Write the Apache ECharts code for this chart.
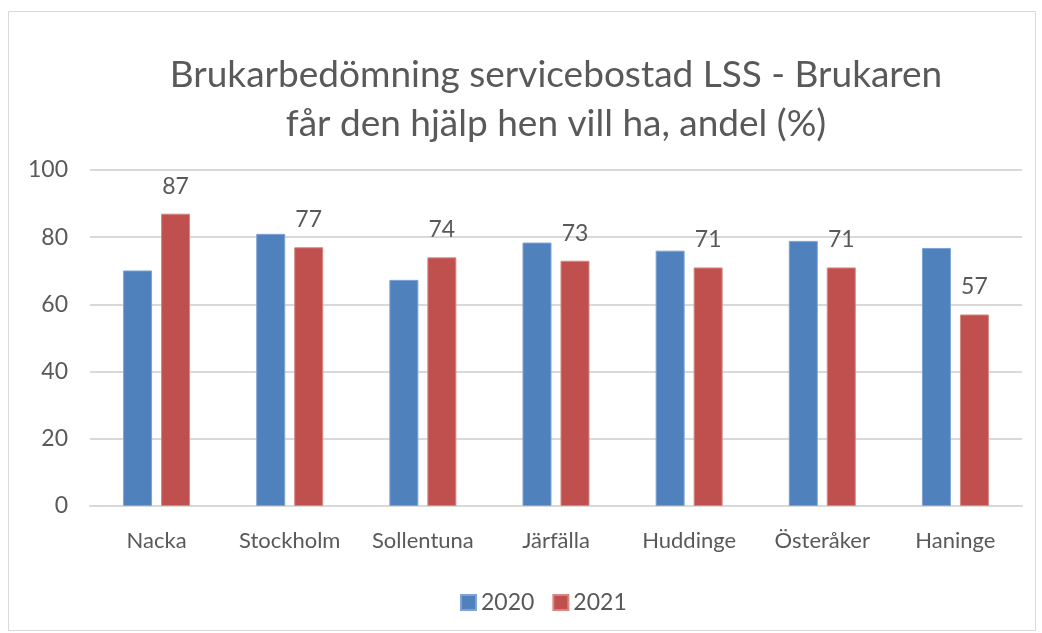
<!DOCTYPE html>
<html>
<head>
<meta charset="utf-8">
<script src="https://cdn.jsdelivr.net/npm/echarts@6/dist/echarts.min.js"></script>
<style>
  html, body { margin: 0; padding: 0; background: #fff; }
  #chart { width: 1042px; height: 633px; }
</style>
</head>
<body>
<div id="chart"></div>
<script>
var categories = ['Nacka', 'Stockholm', 'Sollentuna', 'Järfälla', 'Huddinge', 'Österåker', 'Haninge'];
var values2020 = [70.1, 81.0, 67.3, 78.4, 76.0, 78.9, 76.8];
var values2021 = [87, 77, 74, 73, 71, 71, 57];
var yTicks = [0, 20, 40, 60, 80, 100];

var font = 'Lato, "Open Sans", sans-serif';
var textColor = '#595959';

var chart = echarts.init(document.getElementById('chart'));
var option = {
    backgroundColor: '#fff',
    textStyle: { fontFamily: font },
    graphic: [{
        type: 'rect',
        shape: { x: 8.5, y: 11.5, width: 1027, height: 619 },
        style: { fill: 'none', stroke: '#d9d9d9', lineWidth: 1 },
        silent: true
    }],
    title: {
        text: 'Brukarbedömning servicebostad LSS - Brukaren\nfår den hjälp hen vill ha, andel (%)',
        left: 551,
        textAlign: 'center',
        top: 46,
        textStyle: {
            color: textColor,
            fontSize: 37,
            fontWeight: 'normal',
            fontFamily: font,
            lineHeight: 49
        }
    },
    legend: {
        data: ['2020', '2021'],
        left: 455,
        top: 586,
        itemWidth: 15,
        itemHeight: 15,
        itemGap: 18,
        icon: 'rect',
        textStyle: { color: textColor, fontSize: 23, fontFamily: font }
    },
    grid: { left: 90, right: 20, top: 170, bottom: 127, containLabel: false },
    xAxis: {
        type: 'category',
        data: categories,
        axisTick: { show: false },
        axisLine: { lineStyle: { color: '#d9d9d9', width: 2 } },
        axisLabel: { color: textColor, fontSize: 22, margin: 24, interval: 0, fontFamily: font }
    },
    yAxis: {
        type: 'value',
        min: yTicks[0],
        max: yTicks[yTicks.length - 1],
        interval: 20,
        axisLine: { show: false },
        axisTick: { show: false },
        splitLine: { lineStyle: { color: '#d9d9d9', width: 2 } },
        axisLabel: { color: textColor, fontSize: 23, margin: 22, fontFamily: font }
    },
    series: [{
        name: '2020',
        type: 'bar',
        data: values2020,
        barWidth: 29,
        barGap: '31%',
        itemStyle: { color: '#4F81BD', borderColor: '#7ea3d4', borderWidth: 1 }
    }, {
        name: '2021',
        type: 'bar',
        data: values2021,
        barWidth: 29,
        itemStyle: { color: '#C0504D', borderColor: '#d98683', borderWidth: 1 },
        label: {
            show: true,
            position: 'top',
            distance: 16,
            color: textColor,
            fontSize: 23,
            fontFamily: font
        }
    }],
    animation: false
};
chart.setOption(option);
</script>
</body>
</html>
